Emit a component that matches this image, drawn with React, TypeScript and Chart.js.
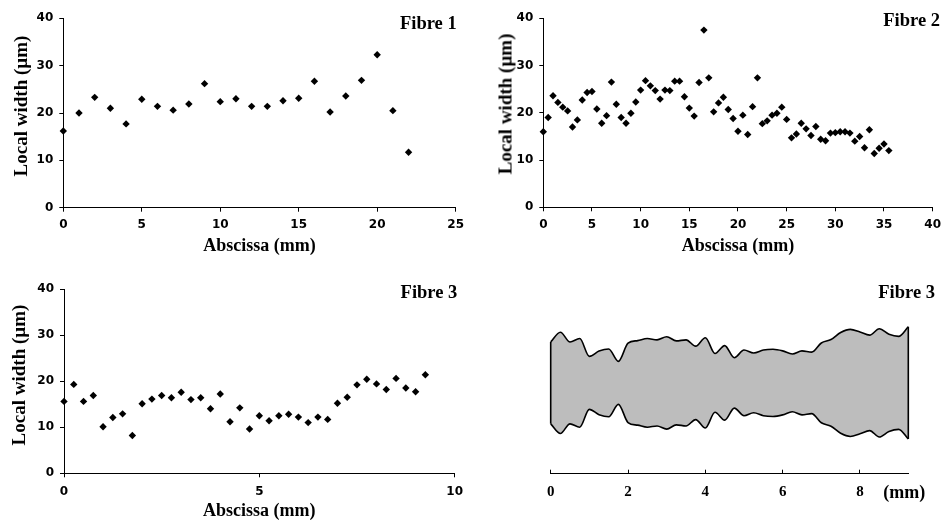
import React, { useEffect, useRef } from "react";
import { Chart, registerables } from "chart.js";

Chart.register(...registerables);

// ---------- data ----------
const fibre1Abscissa = [0, 1, 2, 3, 4, 5, 6, 7, 8, 9, 10, 11, 12, 13, 14, 15, 16, 17, 18, 19, 20, 21, 22];
const fibre1Width = [16.2, 20.0, 23.3, 21.0, 17.7, 22.9, 21.4, 20.6, 21.9, 26.2, 22.4, 23.0, 21.4, 21.4, 22.6, 23.1, 26.7, 20.2, 23.6, 26.9, 32.3, 20.5, 11.7];

const fibre2Abscissa = [
  0, 0.5, 1, 1.5, 2, 2.5, 3, 3.5, 4, 4.5, 5, 5.5, 6, 6.5, 7, 7.5, 8, 8.5, 9, 9.5,
  10, 10.5, 11, 11.5, 12, 12.5, 13, 13.5, 14, 14.5, 15, 15.5, 16, 16.5, 17, 17.5, 18, 18.5, 19, 19.5,
  20, 20.5, 21, 21.5, 22, 22.5, 23, 23.5, 24, 24.5, 25, 25.5, 26, 26.5, 27, 27.5, 28, 28.5, 29, 29.5,
  30, 30.5, 31, 31.5, 32, 32.5, 33, 33.5, 34, 34.5, 35, 35.5,
];
const fibre2Width = [
  16.0, 19.0, 23.6, 22.2, 21.2, 20.4, 17.0, 18.5, 22.7, 24.3, 24.5, 20.8, 17.8, 19.4, 26.5, 21.8, 19.0, 17.8, 19.9, 22.3,
  24.8, 26.8, 25.7, 24.7, 22.9, 24.8, 24.7, 26.7, 26.7, 23.4, 21.0, 19.3, 26.4, 37.5, 27.4, 20.2, 22.1, 23.3, 20.7, 18.8,
  16.1, 19.5, 15.4, 21.3, 27.4, 17.7, 18.3, 19.5, 19.9, 21.2, 18.6, 14.7, 15.5, 17.8, 16.6, 15.2, 17.1, 14.4, 14.1, 15.7,
  15.8, 16.0, 16.0, 15.7, 14.0, 15.0, 12.6, 16.4, 11.4, 12.5, 13.4, 12.0,
];

const fibre3Abscissa = [
  0, 0.25, 0.5, 0.75, 1, 1.25, 1.5, 1.75, 2, 2.25, 2.5, 2.75, 3, 3.25, 3.5, 3.75, 4, 4.25, 4.5, 4.75,
  5, 5.25, 5.5, 5.75, 6, 6.25, 6.5, 6.75, 7, 7.25, 7.5, 7.75, 8, 8.25, 8.5, 8.75, 9, 9.25,
];
const fibre3Width = [
  15.6, 19.3, 15.6, 16.9, 10.1, 12.1, 12.9, 8.2, 15.1, 16.1, 16.9, 16.4, 17.6, 16.0, 16.4, 14.0, 17.2, 11.2, 14.2, 9.6,
  12.5, 11.4, 12.5, 12.8, 12.2, 11.0, 12.2, 11.7, 15.2, 16.5, 19.2, 20.4, 19.4, 18.2, 20.6, 18.5, 17.7, 21.4,
];

const widthTicks = [0, 10, 20, 30, 40];
const fibre1Ticks = [0, 5, 10, 15, 20, 25];
const fibre2Ticks = [0, 5, 10, 15, 20, 25, 30, 35, 40];
const fibre3Ticks = [0, 5, 10];
const profileTicks = [0, 2, 4, 6, 8];
const profileEnd = 9.25;

const panelTitles = ["Fibre 1", "Fibre 2", "Fibre 3", "Fibre 3"];
const xAxisTitle = "Abscissa (mm)";
const yAxisTitle = "Local width (µm)";
const profileUnit = "(mm)";

// ---------- styling ----------
const SERIF = "'Liberation Serif', 'Times New Roman', serif";
const SANS = "'DejaVu Sans', sans-serif";
const INK = "#000";

type Box = { left: number; top: number; width: number; height: number };

interface ScatterSpec {
  box: Box;
  pad: { left: number; right: number; top: number; bottom: number };
  yWidth: number;
  xHeight: number;
  xs: number[];
  ys: number[];
  xTicks: number[];
  xTitlePad: number;
  xTickPad: number;
}

function setTicks(list: number[]) {
  return (s: any) => {
    s.ticks = list.map((v) => ({ value: v }));
  };
}

function ScatterPanel({ spec }: { spec: ScatterSpec }) {
  const ref = useRef<HTMLCanvasElement | null>(null);
  useEffect(() => {
    if (!ref.current) return;
    const chart = new Chart(ref.current, {
      type: "scatter",
      data: {
        datasets: [
          {
            data: spec.xs.map((x, i) => ({ x, y: spec.ys[i] })),
            pointStyle: "rectRot",
            pointRadius: 3.7,
            pointBackgroundColor: INK,
            pointBorderWidth: 0,
            borderWidth: 0,
            clip: false,
          } as any,
        ],
      },
      options: {
        responsive: false,
        animation: false,
        devicePixelRatio: 1,
        events: [],
        layout: { padding: spec.pad },
        plugins: { legend: { display: false }, tooltip: { enabled: false } },
        scales: {
          x: {
            type: "linear",
            min: spec.xTicks[0],
            max: spec.xTicks[spec.xTicks.length - 1],
            afterBuildTicks: setTicks(spec.xTicks),
            afterFit: (s: any) => {
              s.height = spec.xHeight;
            },
            grid: { display: true, drawOnChartArea: false, drawTicks: true, tickLength: 4, color: INK, lineWidth: 1 },
            border: { display: true, color: INK, width: 1 },
            ticks: {
              color: INK,
              font: { family: SANS, size: 12, weight: "bold" },
              padding: spec.xTickPad,
              maxRotation: 0,
              autoSkip: false,
            },
            title: {
              display: true,
              text: xAxisTitle,
              color: INK,
              font: { family: SERIF, size: 18, weight: "bold" },
              padding: { top: 0, bottom: spec.xTitlePad },
            },
          },
          y: {
            type: "linear",
            min: widthTicks[0],
            max: widthTicks[widthTicks.length - 1],
            afterBuildTicks: setTicks(widthTicks),
            afterFit: (s: any) => {
              s.width = spec.yWidth;
            },
            grid: { display: true, drawOnChartArea: false, drawTicks: true, tickLength: 4, color: INK, lineWidth: 1 },
            border: { display: true, color: INK, width: 1 },
            ticks: {
              color: INK,
              font: { family: SANS, size: 12, weight: "bold" },
              padding: 6,
              autoSkip: false,
            },
          },
        },
      } as any,
    });
    return () => chart.destroy();
  }, [spec]);
  const b = spec.box;
  return (
    <canvas
      ref={ref}
      width={b.width}
      height={b.height}
      style={{ position: "absolute", left: b.left, top: b.top, width: b.width, height: b.height }}
    />
  );
}

function ProfilePanel({ box }: { box: Box }) {
  const ref = useRef<HTMLCanvasElement | null>(null);
  useEffect(() => {
    if (!ref.current) return;
    const n = fibre3Abscissa.length;
    const upper = fibre3Abscissa.map((x, i) => ({ x, y: fibre3Width[i] / 2 }));
    const lower = fibre3Abscissa.map((x, i) => ({ x, y: -fibre3Width[i] / 2 }));
    const leftEdge = [upper[0], lower[0]];
    const rightEdge = [upper[n - 1], lower[n - 1]];
    const lineBase = { borderColor: INK, borderWidth: 1.6, pointRadius: 0, clip: false };
    const chart = new Chart(ref.current, {
      type: "line",
      data: {
        datasets: [
          { ...lineBase, data: upper, cubicInterpolationMode: "monotone", fill: "+1", backgroundColor: "#bdbdbd" },
          { ...lineBase, data: lower, cubicInterpolationMode: "monotone", fill: false },
          { ...lineBase, data: leftEdge, tension: 0, fill: false },
          { ...lineBase, data: rightEdge, tension: 0, fill: false },
        ] as any,
      },
      options: {
        responsive: false,
        animation: false,
        devicePixelRatio: 1,
        events: [],
        layout: { padding: { left: 70.7, right: 38.7, top: 9.45, bottom: 0 } },
        plugins: {
          legend: { display: false },
          tooltip: { enabled: false },
          filler: { drawTime: "beforeDatasetsDraw" },
        },
        scales: {
          x: {
            type: "linear",
            min: profileTicks[0],
            max: profileEnd,
            afterBuildTicks: setTicks(profileTicks),
            afterFit: (s: any) => {
              s.height = 47.3;
            },
            grid: { display: true, drawOnChartArea: false, drawTicks: true, tickLength: -4, color: INK, lineWidth: 1 },
            border: { display: true, color: INK, width: 1 },
            ticks: {
              color: INK,
              font: { family: SERIF, size: 15, weight: "bold" },
              padding: 13,
              maxRotation: 0,
              autoSkip: false,
            },
          },
          y: { type: "linear", display: false, min: -17.3, max: 19.7 },
        },
      } as any,
    });
    return () => chart.destroy();
  }, []);
  return (
    <canvas
      ref={ref}
      width={box.width}
      height={box.height}
      style={{ position: "absolute", left: box.left, top: box.top, width: box.width, height: box.height }}
    />
  );
}

const spec1: ScatterSpec = {
  box: { left: 0, top: 0, width: 470, height: 260 },
  pad: { left: 0, right: 11, top: 18.3, bottom: 0 },
  yWidth: 63.3,
  xHeight: 52.3,
  xs: fibre1Abscissa,
  ys: fibre1Width,
  xTicks: fibre1Ticks,
  xTitlePad: 2.5,
  xTickPad: 6,
};
const spec2: ScatterSpec = {
  box: { left: 480, top: 0, width: 467, height: 260 },
  pad: { left: 0, right: 8, top: 18.3, bottom: 0 },
  yWidth: 63.3,
  xHeight: 52.7,
  xs: fibre2Abscissa,
  ys: fibre2Width,
  xTicks: fibre2Ticks,
  xTitlePad: 2.5,
  xTickPad: 6,
};
const spec3: ScatterSpec = {
  box: { left: 0, top: 270, width: 470, height: 251 },
  pad: { left: 0, right: 14, top: 19, bottom: 0 },
  yWidth: 64,
  xHeight: 47.7,
  xs: fibre3Abscissa,
  ys: fibre3Width,
  xTicks: fibre3Ticks,
  xTitlePad: -1.5,
  xTickPad: 7,
};

const titleStyle = (right: number, centerY: number): React.CSSProperties => ({
  position: "absolute",
  right,
  top: centerY - 9.25,
  font: `bold 18.5px ${SERIF}`,
  lineHeight: 1,
  color: INK,
  whiteSpace: "nowrap",
});

const yTitleStyle = (cx: number, cy: number): React.CSSProperties => ({
  position: "absolute",
  left: cx,
  top: cy,
  transform: "translate(-50%, -50%) rotate(-90deg)",
  font: `bold 19px ${SERIF}`,
  lineHeight: 1,
  color: INK,
  whiteSpace: "nowrap",
});

export default function App() {
  return (
    <div
      style={{
        position: "fixed",
        left: 0,
        top: 0,
        width: 947,
        height: 521,
        overflow: "hidden",
        background: "#fff",
      }}
    >
      <ScatterPanel spec={spec1} />
      <ScatterPanel spec={spec2} />
      <ScatterPanel spec={spec3} />
      <ProfilePanel box={{ left: 480, top: 270, width: 467, height: 251 }} />
      <div style={yTitleStyle(20, 105.5)}>{yAxisTitle}</div>
      <div style={yTitleStyle(505, 104)}>{yAxisTitle}</div>
      <div style={yTitleStyle(18, 375)}>{yAxisTitle}</div>
      <div style={titleStyle(490.3, 23.3)}>{panelTitles[0]}</div>
      <div style={titleStyle(7, 20.7)}>{panelTitles[1]}</div>
      <div style={titleStyle(489.7, 292.7)}>{panelTitles[2]}</div>
      <div style={titleStyle(12, 292.7)}>{panelTitles[3]}</div>
      <div
        style={{
          position: "absolute",
          left: 883.3,
          top: 491.7 - 9,
          font: `bold 18px ${SERIF}`,
          lineHeight: 1,
          color: INK,
          whiteSpace: "nowrap",
        }}
      >
        {profileUnit}
      </div>
    </div>
  );
}
